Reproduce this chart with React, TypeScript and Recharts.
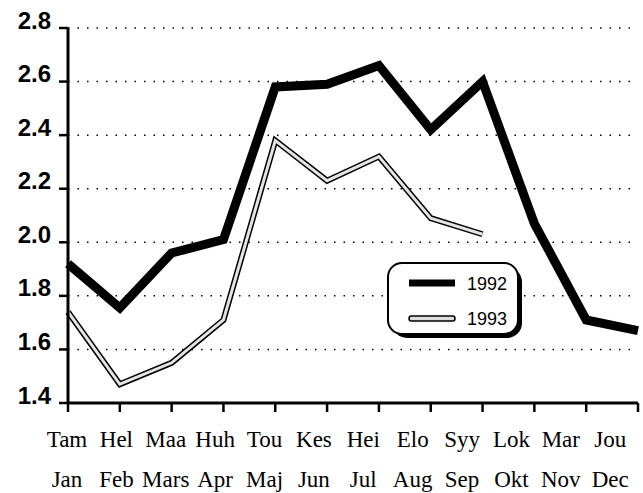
import { LineChart, Line, XAxis, YAxis, CartesianGrid } from 'recharts';

const monthsFi = ['Tam', 'Hel', 'Maa', 'Huh', 'Tou', 'Kes', 'Hei', 'Elo', 'Syy', 'Lok', 'Mar', 'Jou'];
const monthsSv = ['Jan', 'Feb', 'Mars', 'Apr', 'Maj', 'Jun', 'Jul', 'Aug', 'Sep', 'Okt', 'Nov', 'Dec'];
const values1992 = [1.92, 1.755, 1.96, 2.01, 2.58, 2.59, 2.66, 2.42, 2.6, 2.07, 1.71, 1.67];
const values1993 = [1.74, 1.47, 1.55, 1.71, 2.38, 2.23, 2.32, 2.09, 2.03, null, null, null];
const yTicks = [1.4, 1.6, 1.8, 2.0, 2.2, 2.4, 2.6, 2.8];

const data = monthsFi.map((fi, i) => ({
  fi,
  sv: monthsSv[i],
  y1992: values1992[i],
  y1993: values1993[i],
}));

const serif = "'Liberation Serif', 'Times New Roman', serif";
const sans = "'Liberation Sans', Arial, sans-serif";

// two-line month label; the row is squeezed a bit so the last label fits
const MonthTick = ({ x, y, payload, index }: any) => {
  const lx = 67 + (x - 68) * 0.953;
  return (
    <g>
      <text x={lx} y={y + 33} textAnchor="middle" fontFamily={serif} fontSize={23} fill="#000">
        {payload.value}
      </text>
      <text x={lx} y={y + 73} textAnchor="middle" fontFamily={serif} fontSize={23} fill="#000">
        {monthsSv[index]}
      </text>
    </g>
  );
};

const LegendBox = () => (
  <div style={{ position: 'absolute', left: 387, top: 262, width: 140, height: 78 }}>
    <div
      style={{
        position: 'absolute',
        left: 5,
        top: 5,
        width: 130,
        height: 71,
        borderRadius: 15,
        background: '#000',
      }}
    />
    <div
      style={{
        position: 'absolute',
        left: 0,
        top: 0,
        width: 128,
        height: 69,
        border: '2px solid #000',
        borderRadius: 15,
        background: '#fff',
      }}
    >
      <svg width={128} height={69} style={{ display: 'block' }}>
        <line x1={20} y1={19} x2={66} y2={19} stroke="#000" strokeWidth={7} />
        <text x={78} y={26} fontFamily={sans} fontSize={18}>
          1992
        </text>
        <rect x={20} y={52} width={46} height={5} rx={2.5} fill="#ddd" stroke="#000" strokeWidth={1.5} />
        <text x={78} y={61} fontFamily={sans} fontSize={18}>
          1993
        </text>
      </svg>
    </div>
  </div>
);

export default function App() {
  return (
    <div style={{ position: 'absolute', left: 0, top: 0, width: 643, height: 493, background: '#fff', overflow: 'hidden' }}>
      <LineChart width={643} height={493} data={data} margin={{ top: 28, right: 5, left: 0, bottom: 0 }}>
        <CartesianGrid vertical={false} stroke="#000" strokeDasharray="1.5 8" strokeWidth={1.5} />
        <XAxis
          dataKey="fi"
          height={90}
          tick={<MonthTick />}
          interval={0}
          axisLine={{ stroke: '#000', strokeWidth: 3 }}
          tickLine={{ stroke: '#000', strokeWidth: 2.5 }}
          tickSize={9}
        />
        <YAxis
          width={68}
          domain={[1.4, 2.8]}
          ticks={yTicks}
          tickFormatter={(v: number) => v.toFixed(1)}
          axisLine={{ stroke: '#000', strokeWidth: 3 }}
          tickLine={{ stroke: '#000', strokeWidth: 2.5 }}
          tickSize={9}
          tick={{ fill: '#000', fontFamily: sans, fontWeight: 'bold', fontSize: 24, dx: -6, dy: -8 }}
        />
        <Line dataKey="y1992" stroke="#000" strokeWidth={9} dot={false} strokeLinejoin="miter" isAnimationActive={false} />
        <Line dataKey="y1993" stroke="#000" strokeWidth={6} dot={false} isAnimationActive={false} />
        <Line dataKey="y1993" stroke="#e4e4e4" strokeWidth={3} dot={false} isAnimationActive={false} />
      </LineChart>
      <LegendBox />
    </div>
  );
}
